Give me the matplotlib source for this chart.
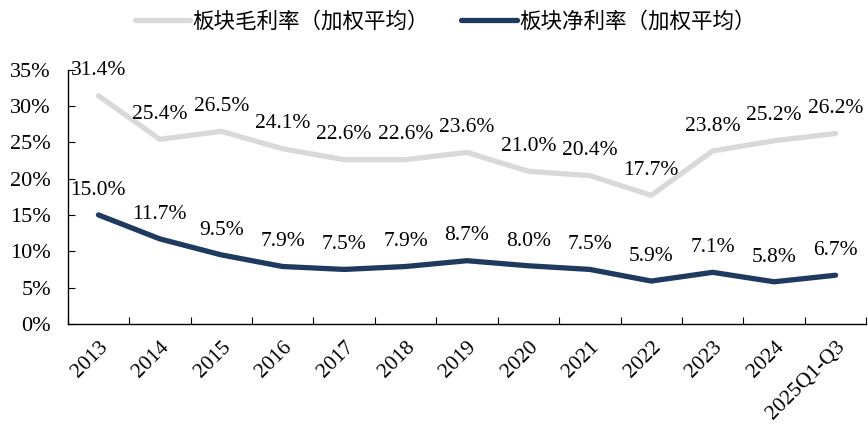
import matplotlib.pyplot as plt
from matplotlib.ticker import FuncFormatter

# Category labels and margin values (%)
years = ["2013", "2014", "2015", "2016", "2017", "2018", "2019",
         "2020", "2021", "2022", "2023", "2024", "2025Q1-Q3"]
gross_margin = [31.4, 25.4, 26.5, 24.1, 22.6, 22.6, 23.6, 21.0, 20.4, 17.7, 23.8, 25.2, 26.2]
net_margin = [15.0, 11.7, 9.5, 7.9, 7.5, 7.9, 8.7, 8.0, 7.5, 5.9, 7.1, 5.8, 6.7]

gross_name = "板块毛利率（加权平均）"
net_name = "板块净利率（加权平均）"

serif = ["Liberation Serif", "DejaVu Serif"]
cjk = ["Noto Sans CJK SC", "DejaVu Sans"]

fig = plt.figure(figsize=(8.68, 4.24), dpi=100)
ax = fig.add_axes([0.078, 0.236, 0.92, 0.6])

x = list(range(len(years)))
ax.plot(x, gross_margin, color="#d9d9d9", linewidth=3.8, solid_capstyle="round",
        label=gross_name)
ax.plot(x, net_margin, color="#1f3a5f", linewidth=3.8, solid_capstyle="round",
        label=net_name)

# Value labels above each point
for xi, v in zip(x, gross_margin):
    ax.annotate(f"{v:.1f}%", (xi, v), xytext=(0, 11), textcoords="offset points",
                ha="center", va="bottom", fontsize=15.5, family=serif)
for xi, v in zip(x, net_margin):
    ax.annotate(f"{v:.1f}%", (xi, v), xytext=(0, 11), textcoords="offset points",
                ha="center", va="bottom", fontsize=15.5, family=serif)

ax.set_xlim(-0.5, len(years) - 0.5)
ax.set_ylim(0, 35)
ax.set_yticks(range(0, 36, 5))
ax.yaxis.set_major_formatter(FuncFormatter(lambda v, p: f"{v:.0f}%"))

# Ticks between categories, labels at category centers
ax.set_xticks([i - 0.5 for i in range(len(years) + 1)])
ax.set_xticklabels([])
ax.set_xticks(x, minor=True)
ax.set_xticklabels(years, minor=True, rotation=45, ha="right", va="top",
                   rotation_mode="anchor", family=serif, fontsize=15.5)
ax.tick_params(axis="x", which="minor", length=0, pad=10)
ax.tick_params(axis="x", which="major", direction="in", length=5)
ax.tick_params(axis="y", direction="in", length=5, labelsize=16, pad=12)
for lab in ax.get_yticklabels():
    lab.set_family(serif)

ax.spines["top"].set_visible(False)
ax.spines["right"].set_visible(False)
ax.spines["left"].set_linewidth(1.0)
ax.spines["bottom"].set_linewidth(1.0)

leg = fig.legend(loc="upper center", bbox_to_anchor=(0.513, 1.02), ncol=2,
                 frameon=False, handlelength=2.6, columnspacing=1.5,
                 handletextpad=0.1, prop={"family": cjk, "size": 15.5})

plt.savefig("out.png", dpi=100)
